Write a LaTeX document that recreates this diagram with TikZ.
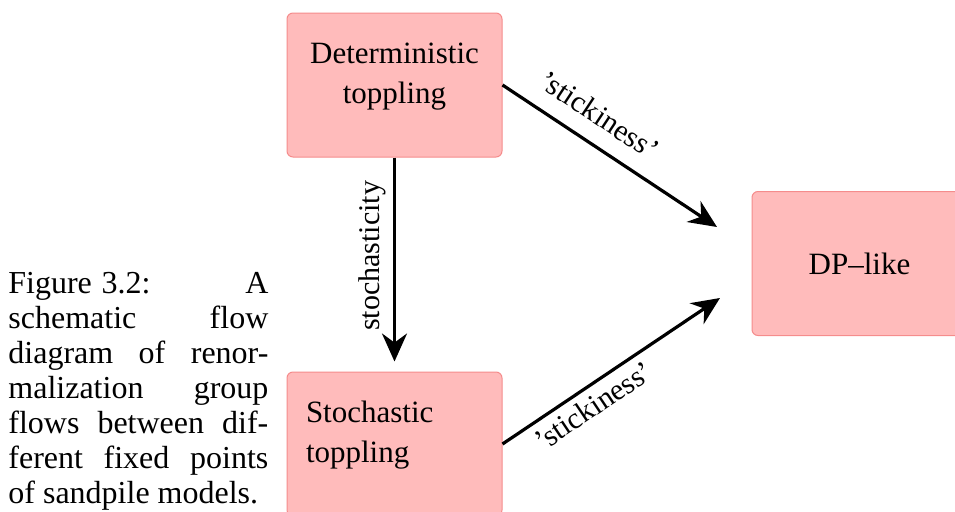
\documentclass[tikz,border=0pt]{standalone}
\usepackage{fontspec}
\setmainfont{Liberation Serif}
\usepackage{tikz}
\usetikzlibrary{arrows.meta}
\definecolor{boxpink}{RGB}{255,187,187}
\definecolor{boxrim}{RGB}{245,140,140}
\tikzset{
    flowbox/.style={
    rectangle, rounded corners=3pt, draw=boxrim, fill=boxpink, line width=0.5pt,
    minimum width=107.5pt, minimum height=72pt, text width=88.5pt, inner xsep=9.5pt,
    font=\fontsize{15.5}{20}\selectfont
    },
    topbox/.style={flowbox, text depth=32pt},
    flow/.style={-{Stealth[length=14pt,width=12.5pt]}, line width=1.6pt},
    flowlabel/.style={font=\fontsize{15}{18}\selectfont}
}

\begin{document}
\begin{tikzpicture}[x=0.5pt, y=0.5pt]
    \useasboundingbox (0,0) rectangle (955,511);
    % caption
    \node[anchor=base west, inner sep=0pt, text width=130pt, align=justify,
    font=\fontsize{16}{17.5}\selectfont] (caption) at (8,218)
    {Figure\hspace{0.3em}3.2: A\linebreak schematic flow\linebreak diagram of renor-\linebreak malization group\linebreak flows between dif-\linebreak ferent fixed points\linebreak of sandpile models.};

    \node[topbox, align=center] (det) at (394.5,426) {Deterministic\\toppling};
    \node[topbox, align=left] (sto) at (394.5,67) {Stochastic\\toppling};
    \node[flowbox, align=center] (dp) at (859.5,247.5) {DP--like};

    \coordinate (uptip) at (717,284);
    \coordinate (lowtip) at (720,213);

    \draw[flow, shorten >=5pt] (det) -- node[pos=0.46, rotate=90, anchor=south, flowlabel] {stochasticity} (sto);
    \draw[flow] (det.east) -- node[pos=0.38, above=5pt, sloped, flowlabel] {'stickiness'} (uptip);
    \draw[flow] (sto.east) -- node[pos=0.37, below, sloped, flowlabel] {'stickiness'} (lowtip);
\end{tikzpicture}
\end{document}
